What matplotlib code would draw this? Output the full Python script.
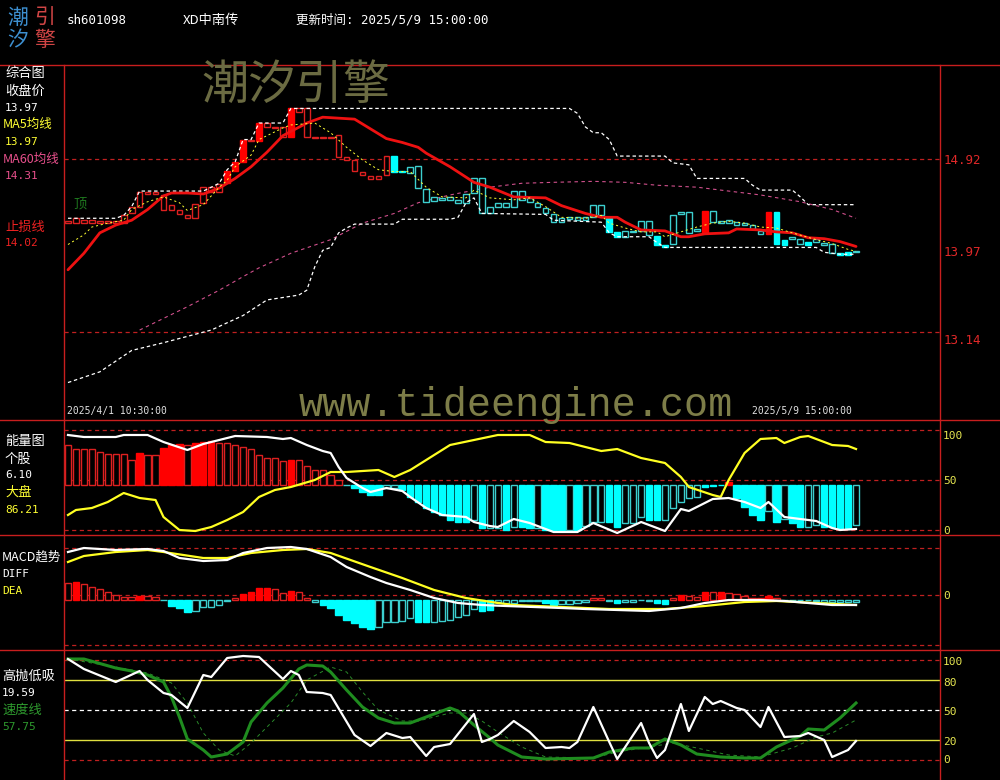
import matplotlib
matplotlib.use('Agg')
import matplotlib.pyplot as plt
from matplotlib.lines import Line2D
import numpy as np

plt.rcParams['font.family'] = ['Noto Sans CJK SC', 'DejaVu Sans']
plt.rcParams['lines.scale_dashes'] = False

# ================= 数据 =================
n_bars = 100

# K线实体 上沿/下沿 (元)
body_top = [14.28, 14.31, 14.29, 14.29, 14.28, 14.28, 14.28, 14.34, 14.43, 14.58,
            14.58, 14.58, 14.55, 14.45, 14.40, 14.34, 14.46, 14.63, 14.63, 14.66,
            14.80, 14.89, 15.12, 15.12, 15.29, 15.29, 15.25, 15.25, 15.44, 15.44,
            15.44, 15.15, 15.15, 15.15, 15.17, 14.94, 14.91, 14.79, 14.75, 14.75,
            14.95, 14.95, 14.80, 14.84, 14.85, 14.61, 14.53, 14.52, 14.53, 14.50,
            14.56, 14.72, 14.72, 14.43, 14.47, 14.47, 14.59, 14.59, 14.52, 14.47,
            14.42, 14.35, 14.31, 14.32, 14.32, 14.32, 14.45, 14.45, 14.31, 14.17,
            14.18, 14.18, 14.28, 14.28, 14.13, 14.04, 14.34, 14.37, 14.37, 14.20,
            14.39, 14.39, 14.28, 14.29, 14.27, 14.26, 14.24, 14.18, 14.37, 14.37,
            14.09, 14.12, 14.10, 14.07, 14.10, 14.06, 14.05, 13.95, 13.96, 13.97]
body_bot = [14.26, 14.26, 14.26, 14.26, 14.26, 14.26, 14.26, 14.26, 14.36, 14.43,
            14.56, 14.56, 14.40, 14.40, 14.35, 14.31, 14.31, 14.47, 14.58, 14.58,
            14.67, 14.80, 14.89, 15.10, 15.10, 15.25, 15.24, 15.15, 15.15, 15.40,
            15.15, 15.14, 15.14, 15.14, 14.94, 14.91, 14.80, 14.76, 14.71, 14.71,
            14.76, 14.79, 14.79, 14.78, 14.62, 14.48, 14.49, 14.50, 14.50, 14.47,
            14.47, 14.57, 14.36, 14.36, 14.43, 14.43, 14.43, 14.50, 14.48, 14.43,
            14.36, 14.27, 14.27, 14.30, 14.29, 14.29, 14.32, 14.34, 14.17, 14.12,
            14.12, 14.17, 14.18, 14.14, 14.03, 14.01, 14.05, 14.35, 14.16, 14.18,
            14.16, 14.27, 14.26, 14.26, 14.24, 14.24, 14.20, 14.15, 14.15, 14.05,
            14.04, 14.10, 14.05, 14.04, 14.07, 14.04, 13.95, 13.93, 13.93, 13.96]
# h 红空心  H 红实心  c 青空心  C 青实心
body_kind = ("hhhhhhhhhh" "hhhhhhhhhh" "HHHhHhhhHh" "hhhhhhhhhh" "hCCccccccc"
             "cccccccccc" "ccccccccCC" "ccccCCcccc" "HcccccccHC" "CccCcccCCc")

ma5 = [(0, 14.04), (2, 14.14), (3, 14.22), (5, 14.26), (7, 14.29), (8, 14.40),
       (10, 14.48), (12, 14.53), (14, 14.47), (15, 14.39), (17, 14.45), (19, 14.63),
       (20, 14.70), (21, 14.84), (23, 14.96), (24, 15.12), (26, 15.20), (27, 15.24),
       (28, 15.27), (31, 15.29), (32, 15.24), (33, 15.19), (35, 15.04), (37, 14.91),
       (39, 14.81), (41, 14.79), (43, 14.79), (45, 14.63), (47, 14.53), (50, 14.52),
       (51, 14.60), (53, 14.52), (56, 14.50), (58, 14.52), (60, 14.43), (62, 14.32),
       (65, 14.31), (67, 14.34), (68, 14.26), (70, 14.21), (72, 14.17), (74, 14.17),
       (75, 14.12), (77, 14.17), (79, 14.22), (81, 14.26), (83, 14.28), (85, 14.26),
       (87, 14.22), (89, 14.21), (91, 14.16), (94, 14.09), (96, 14.05), (98, 13.99),
       (99, 13.97)]
stop_line = [(0, 13.78), (2, 13.95), (4, 14.16), (6, 14.24), (8, 14.29), (10, 14.40),
             (12, 14.54), (13, 14.57), (15, 14.57), (17, 14.56), (19, 14.62), (21, 14.72),
             (23, 14.84), (25, 14.99), (27, 15.16), (30, 15.29), (32, 15.35), (34, 15.34),
             (36, 15.33), (38, 15.23), (40, 15.13), (42, 15.09), (44, 15.04), (45, 14.98),
             (48, 14.84), (51, 14.68), (53, 14.63), (56, 14.53), (60, 14.52), (62, 14.44),
             (65, 14.36), (67, 14.32), (69, 14.32), (70, 14.27), (72, 14.19), (75, 14.18),
             (77, 14.12), (78, 14.12), (80, 14.15), (83, 14.16), (84, 14.20), (87, 14.19),
             (89, 14.17), (91, 14.16), (93, 14.11), (95, 14.10), (97, 14.07), (99, 14.02)]
ma60 = [(9, 13.16), (15, 13.40), (19, 13.57), (22, 13.71), (24, 13.80), (28, 13.95),
        (33, 14.09), (37, 14.26), (41, 14.36), (44, 14.47), (48, 14.55), (53, 14.63),
        (57, 14.67), (61, 14.68), (66, 14.69), (70, 14.68), (74, 14.65), (79, 14.63),
        (83, 14.59), (87, 14.55), (92, 14.48), (96, 14.40), (99, 14.31)]
upper_band = [(0, 14.31), (6, 14.31), (7, 14.34), (8, 14.43), (9, 14.59), (17, 14.59),
              (18, 14.63), (19, 14.67), (20, 14.81), (21, 14.89), (22, 15.12), (23, 15.12),
              (24, 15.29), (27, 15.29), (28, 15.44), (63, 15.44), (64, 15.39), (65, 15.25),
              (66, 15.19), (67, 15.19), (68, 15.12), (69, 14.95), (75, 14.95), (76, 14.88),
              (78, 14.86), (79, 14.72), (85, 14.72), (86, 14.65), (87, 14.60), (91, 14.60),
              (92, 14.53), (93, 14.45), (99, 14.45)]
lower_band = [(0, 12.62), (4, 12.73), (8, 12.95), (12, 13.03), (18, 13.16), (22, 13.31),
              (25, 13.47), (29, 13.52), (30, 13.57), (31, 13.81), (32, 13.98), (33, 14.01),
              (34, 14.16), (35, 14.21), (36, 14.25), (41, 14.25), (42, 14.30), (48, 14.30),
              (49, 14.32), (50, 14.47), (51, 14.52), (52, 14.36), (60, 14.35), (61, 14.29),
              (67, 14.27), (68, 14.16), (69, 14.12), (73, 14.12), (74, 14.06), (75, 14.01),
              (94, 14.01), (95, 13.96), (96, 13.95), (97, 13.94), (99, 13.94)]

# 能量图
energy_base = 45.5
energy_bar = [85, 81, 81, 81, 78, 76, 76, 76, 70, 77,
              75, 75, 82, 85, 86, 85, 87, 88, 89, 87,
              87, 85, 83, 81, 75, 72, 72, 69, 70, 70,
              64, 60, 60, 55, 50, 45.5, 42, 38, 35, 35,
              42, 42, 40, 33, 28, 22, 18, 15, 10, 8,
              8, 10, 2, 2, 2, 0, 3, 3, 2, 2,
              0, 0, 0, 0, 0, 4, 8, 8, 8, 3,
              7, 7, 13, 10, 10, 10, 22, 28, 32, 33,
              43, 44, 45.5, 48, 32, 23, 15, 10, 19, 8,
              11, 7, 3, 3, 5, 3, 3, 2, 2, 5]
energy_fill = ("hhhhhhhhhf" "hhfffhfffh" "hhhhhhhhfh" "hhhhhhffff" "hhffffffff"
               "fhfhhfhffh" "fffhfhhhff" "hhhffhhhhh" "ffffffffhf" "hffhhffffh")
stock_line = [(0, 95), (2, 93), (6, 93), (7, 95), (10, 95), (12, 88), (15, 80), (17, 86),
              (18, 88), (21, 94), (25, 93), (27, 91), (28, 92), (30, 85), (32, 79), (33, 77),
              (34, 63), (35, 52), (37, 42), (38, 38), (40, 42), (42, 39), (43, 33), (45, 22),
              (47, 15), (50, 13), (51, 8), (53, 4), (54, 3), (56, 11), (58, 7), (61, -2),
              (64, -2), (66, 7), (69, -3), (72, 8), (75, -1), (77, 21), (78, 19), (81, 31),
              (83, 32), (85, 28), (87, 22), (88, 28), (90, 13), (94, 9), (96, 2), (97, 0),
              (99, 1)]
market_line = [(0, 15), (1, 20), (3, 22), (5, 28), (7, 37), (9, 32), (11, 30), (12, 13),
               (14, 0), (16, -1), (18, 3), (20, 10), (22, 18), (24, 33), (26, 40), (28, 43),
               (31, 50), (33, 58), (35, 58), (39, 60), (41, 53), (43, 60), (45, 70), (48, 85),
               (51, 90), (54, 95), (58, 95), (60, 88), (63, 87), (67, 79), (69, 81), (72, 72),
               (75, 67), (77, 53), (78, 43), (81, 35), (82, 33), (83, 50), (85, 77), (87, 91),
               (89, 92), (90, 87), (92, 93), (93, 94), (96, 85), (98, 84), (99, 81)]

# MACD趋势
macd_base = -0.045
macd_bar = [0.12, 0.13, 0.11, 0.08, 0.06, 0.03, 0.00, -0.02, -0.02, -0.01,
            -0.01, -0.02, -0.05, -0.11, -0.13, -0.17, -0.16, -0.12, -0.12, -0.10,
            -0.06, -0.03, 0.01, 0.03, 0.07, 0.07, 0.06, 0.02, 0.04, 0.03,
            -0.03, -0.07, -0.10, -0.13, -0.20, -0.25, -0.28, -0.32, -0.34, -0.32,
            -0.27, -0.27, -0.26, -0.23, -0.27, -0.27, -0.27, -0.26, -0.25, -0.22,
            -0.20, -0.14, -0.16, -0.15, -0.07, -0.08, -0.08, -0.06, -0.06, -0.06,
            -0.08, -0.10, -0.09, -0.09, -0.08, -0.07, -0.03, -0.03, -0.06, -0.08,
            -0.07, -0.07, -0.045, -0.06, -0.08, -0.09, -0.03, 0.00, -0.01, -0.02,
            0.03, 0.03, 0.03, 0.02, 0.01, -0.01, -0.03, -0.03, -0.01, -0.03,
            -0.045, -0.045, -0.045, -0.045, -0.06, -0.07, -0.07, -0.07, -0.07, -0.07]
macd_fill = ("hfhhhhhhhf" "hhhfffhhhh" "hhffffhhfh" "hhfffffffh" "hhhhffhhhh"
             "hhffhhhhhh" "ffhhhhhhhf" "hhhhffhfhh" "fhfhhhhhfh" "hhhhhhhhhh")
diff_line = [(0, 0.43), (2, 0.47), (6, 0.45), (10, 0.46), (12, 0.44), (14, 0.37), (17, 0.34),
             (20, 0.35), (22, 0.42), (25, 0.47), (28, 0.48), (30, 0.46), (33, 0.38), (35, 0.28),
             (38, 0.18), (40, 0.12), (43, 0.05), (46, -0.03), (49, -0.08), (52, -0.10),
             (55, -0.11), (62, -0.13), (65, -0.14), (73, -0.16), (77, -0.13), (80, -0.08),
             (83, -0.05), (87, -0.05), (90, -0.06), (96, -0.10), (99, -0.10)]
dea_line = [(0, 0.33), (2, 0.39), (6, 0.43), (10, 0.45), (12, 0.43), (17, 0.37), (20, 0.37),
            (23, 0.42), (27, 0.45), (30, 0.46), (33, 0.42), (38, 0.28), (42, 0.17), (46, 0.05),
            (50, -0.03), (54, -0.08), (56, -0.10), (62, -0.12), (68, -0.14), (75, -0.14),
            (80, -0.11), (85, -0.07), (89, -0.06), (94, -0.08), (99, -0.10)]

# 高抛低吸
hl_line = [(0, 101), (2, 91), (6, 78), (9, 89), (10, 80), (12, 67), (13, 65), (15, 52),
           (17, 85), (18, 83), (20, 102), (22, 104), (24, 103), (27, 81), (28, 89), (29, 85),
           (30, 68), (32, 67), (33, 65), (36, 25), (38, 14), (40, 27), (42, 22), (43, 23),
           (45, 4), (46, 13), (48, 16), (51, 46), (52, 18), (53, 21), (54, 25), (56, 39),
           (58, 28), (60, 12), (62, 13), (63, 12), (64, 18), (66, 53), (68, 18), (69, 1),
           (70, 13), (72, 37), (73, 17), (74, 2), (75, 10), (77, 56), (78, 29), (80, 63),
           (81, 56), (82, 59), (84, 52), (85, 50), (87, 33), (88, 53), (90, 23), (92, 24),
           (93, 27), (95, 20), (96, 3), (98, 10), (99, 19)]
speed_line = [(0, 101), (2, 101), (6, 92), (8, 89), (10, 85), (12, 78), (13, 63), (14, 43),
              (15, 21), (17, 10), (18, 3), (20, 6), (22, 18), (23, 38), (25, 57), (27, 72),
              (29, 91), (30, 95), (32, 94), (33, 88), (35, 70), (37, 53), (39, 42), (41, 37),
              (43, 37), (45, 43), (48, 52), (49, 49), (51, 35), (53, 22), (54, 15), (57, 3),
              (60, 1), (66, 2), (68, 8), (71, 12), (73, 12), (75, 21), (77, 15), (79, 6),
              (82, 3), (85, 2), (87, 2), (89, 13), (92, 24), (93, 31), (95, 30), (97, 42),
              (99, 57)]
speed_signal = [(0, 101), (6, 93), (10, 87), (13, 77), (15, 57), (17, 27), (19, 10), (21, 4),
                (23, 17), (25, 33), (28, 57), (30, 80), (33, 93), (35, 88), (37, 68), (39, 50),
                (42, 39), (44, 39), (48, 47), (50, 47), (52, 39), (54, 28), (57, 13), (60, 3),
                (66, 2), (69, 8), (73, 13), (76, 17), (79, 12), (83, 5), (87, 3), (91, 12),
                (94, 23), (96, 27), (99, 40)]

# ================= 画布 =================
W, H = 1000, 780
fig = plt.figure(figsize=(10, 7.8), dpi=100, facecolor='black')
FRAME = '#c81e1e'
DASH_RED = '#c02020'
CYAN = '#00ffff'
CYAN_EDGE = '#3ccfcf'
RED = '#ff0000'
RED_EDGE = '#dd2020'
YEL = '#ffff33'
MONO = ['DejaVu Sans Mono', 'Noto Sans CJK SC']


def px_axes(top, bottom, left=64, right=940):
    ax = fig.add_axes([left / W, 1 - bottom / H, (right - left) / W, (bottom - top) / H])
    ax.set_facecolor('black')
    ax.set_axis_off()
    ax.set_xlim(-0.5, 109.55)
    return ax


def ptext(x, y, s, color='white', size=9.5, family=None, **kw):
    kw.setdefault('ha', 'left')
    kw.setdefault('va', 'center')
    fig.text(x / W, 1 - y / H, s, color=color, fontsize=size,
             family=family if family else plt.rcParams['font.family'], **kw)


def hline_fig(y, x0=0, x1=W):
    fig.add_artist(Line2D([x0 / W, x1 / W], [1 - y / H, 1 - y / H], color=FRAME, lw=1.0,
                          transform=fig.transFigure))


def vline_fig(x, y0, y1):
    fig.add_artist(Line2D([x / W, x / W], [1 - y0 / H, 1 - y1 / H], color=FRAME, lw=1.0,
                          transform=fig.transFigure))


def line_pts(ax, pts, **kw):
    xs, ys = zip(*pts)
    ax.plot(xs, ys, **kw)


xs = np.arange(n_bars)

# ---------- 主图 ----------
ax = px_axes(65, 420)
ax.set_ylim(12.2346, 15.887)
for lvl in (14.92, 13.14):
    ax.axhline(lvl, color=DASH_RED, lw=0.9, ls=(0, (3, 2.5)))

top = np.array(body_top)
bot = np.array(body_bot)
face = [{'h': 'black', 'H': RED, 'c': 'black', 'C': CYAN}[k] for k in body_kind]
edge = [{'h': RED_EDGE, 'H': RED, 'c': CYAN_EDGE, 'C': CYAN}[k] for k in body_kind]
ax.bar(xs, top - bot, bottom=bot, width=0.72, color=face, edgecolor=edge, linewidth=1.0, zorder=3)

line_pts(ax, ma60, color='#d0508c', lw=0.8, ls=(0, (2.5, 2.5)), zorder=2)
line_pts(ax, upper_band, color='white', lw=0.9, ls=(0, (2.5, 2)), zorder=4)
line_pts(ax, lower_band, color='white', lw=0.9, ls=(0, (2.5, 2)), zorder=4)
line_pts(ax, stop_line, color='#ee1111', lw=2.0, zorder=5, solid_capstyle='round')
line_pts(ax, ma5, color=YEL, lw=0.7, ls=(0, (1.5, 2)), zorder=6)

# ---------- 能量图 ----------
ax2 = px_axes(420, 535)
ax2.set_ylim(-5, 110)
for lvl in (100, 50, 0):
    ax2.axhline(lvl, color=DASH_RED, lw=0.9, ls=(0, (3, 2.5)))
ev = np.array(energy_bar)
e_up = ev > energy_base
e_col = np.where(e_up, RED, CYAN)
e_edge = np.where(e_up, RED_EDGE, CYAN_EDGE)
e_face = [c if f == 'f' else 'black' for c, f in zip(e_col, energy_fill)]
e_ed = [c if f == 'f' else e for c, e, f in zip(e_col, e_edge, energy_fill)]
ax2.bar(xs, ev - energy_base, bottom=energy_base, width=0.8, color=e_face,
        edgecolor=e_ed, linewidth=1.0, zorder=2)
line_pts(ax2, market_line, color='#ffff22', lw=1.6, zorder=3)
line_pts(ax2, stock_line, color='white', lw=1.6, zorder=4)

# ---------- MACD ----------
ax3 = px_axes(535, 650)
ax3.set_ylim(-0.55, 0.60)
for lvl in (0.47, 0.0, -0.50):
    ax3.axhline(lvl, color=DASH_RED, lw=0.9, ls=(0, (3, 2.5)))
mv = np.array(macd_bar)
m_up = mv > macd_base
m_col = np.where(m_up, RED, CYAN)
m_edge = np.where(m_up, RED_EDGE, CYAN_EDGE)
m_face = [c if f == 'f' else 'black' for c, f in zip(m_col, macd_fill)]
m_ed = [c if f == 'f' else e for c, e, f in zip(m_col, m_edge, macd_fill)]
ax3.bar(xs, mv - macd_base, bottom=macd_base, width=0.8, color=m_face,
        edgecolor=m_ed, linewidth=1.0, zorder=2)
line_pts(ax3, dea_line, color='#ffff22', lw=1.6, zorder=3)
line_pts(ax3, diff_line, color='white', lw=1.6, zorder=4)

# ---------- 高抛低吸 ----------
ax4 = px_axes(650, 780)
ax4.set_ylim(-20, 110)
ax4.axhline(100, color=DASH_RED, lw=0.9, ls=(0, (3, 2.5)))
ax4.axhline(0, color=DASH_RED, lw=0.9, ls=(0, (3, 2.5)))
ax4.axhline(80, color='#e0e040', lw=1.0)
ax4.axhline(20, color='#e0e040', lw=1.0)
ax4.axhline(50, color='white', lw=0.9, ls=(0, (3, 2.5)))
line_pts(ax4, speed_signal, color='#2a8a2a', lw=0.7, ls=(0, (2.5, 2.5)), zorder=2)
line_pts(ax4, speed_line, color='#1f8c1f', lw=2.2, zorder=3)
line_pts(ax4, hl_line, color='white', lw=1.6, zorder=4)

# ---------- 框线 ----------
for yy in (65, 420, 535, 650):
    hline_fig(yy)
vline_fig(64, 65, 780)
vline_fig(940, 65, 780)

# ---------- 文字 ----------
ptext(18, 18, '潮', color='#3d8fd0', size=15, ha='center')
ptext(45, 18, '引', color='#d04545', size=15, ha='center')
ptext(18, 40, '汐', color='#3d8fd0', size=15, ha='center')
ptext(45, 40, '擎', color='#d04545', size=15, ha='center')
ptext(67, 20, 'sh601098', size=9, family=MONO)
ptext(183, 20, 'XD中南传', size=9.5)
ptext(296, 20, '更新时间: 2025/5/9 15:00:00', size=9, family=MONO)

ptext(296, 86, '潮汐引擎', color='#6b6b42', size=34, ha='center')
ptext(516, 405, 'www.tideengine.com', color='#7d7d48', size=29, ha='center',
      family=['Liberation Mono', 'DejaVu Sans Mono'])

ptext(5, 73, '综合图')
ptext(5, 91, '收盘价')
ptext(5, 108, '13.97', size=8, family=MONO)
ptext(3, 124, 'MA5均线', color=YEL, size=9)
ptext(5, 142, '13.97', color=YEL, size=8, family=MONO)
ptext(3, 159, 'MA60均线', color='#e8508c', size=9)
ptext(5, 176, '14.31', color='#e8508c', size=8, family=MONO)
ptext(5, 227, '止损线', color='#ee2222')
ptext(5, 243, '14.02', color='#ee2222', size=8, family=MONO)
ptext(73, 204, '顶', color='#1f7a1f', size=9.5)
ptext(67, 411, '2025/4/1 10:30:00', color='#e0e0e0', size=7, family=MONO)
ptext(752, 411, '2025/5/9 15:00:00', color='#e0e0e0', size=7, family=MONO)

ptext(5, 441, '能量图')
ptext(5, 459, '个股')
ptext(5, 475, '6.10', size=8, family=MONO)
ptext(5, 492, '大盘', color=YEL)
ptext(5, 510, '86.21', color=YEL, size=8, family=MONO)

ptext(2, 557, 'MACD趋势', size=9)
ptext(2, 574, 'DIFF', size=8, family=MONO)
ptext(2, 591, 'DEA', color=YEL, size=8, family=MONO)

ptext(2, 676, '高抛低吸')
ptext(2, 693, '19.59', size=8, family=MONO)
ptext(2, 710, '速度线', color='#2e9a2e')
ptext(2, 727, '57.75', color='#2e9a2e', size=8, family=MONO)

for lab, yy in (('14.92', 160), ('13.97', 253), ('13.14', 340)):
    ptext(944, yy, lab, color='#e02828', size=9, family=MONO)
RY = '#e6e650'
for lab, yy in (('100', 436), ('50', 481), ('0', 531), ('0', 596),
                ('100', 662), ('80', 683), ('50', 712), ('20', 742), ('0', 760)):
    ptext(943, yy, lab, color=RY, size=8, family=MONO)

fig.savefig('out.png', dpi=100, facecolor='black')
